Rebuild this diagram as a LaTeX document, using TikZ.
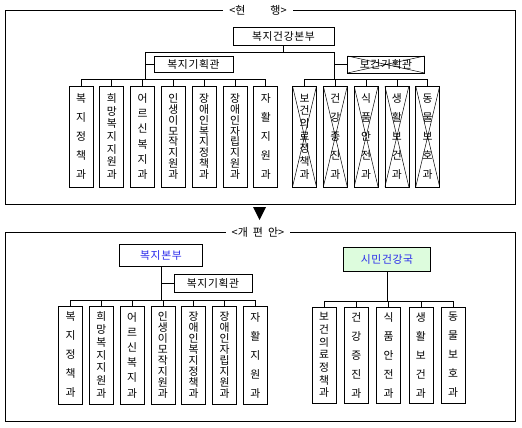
\documentclass[tikz,border=0pt]{standalone}
\usepackage{fontspec}
\setmainfont{Noto Sans CJK KR}
\usetikzlibrary{positioning}
\definecolor{orgblue}{RGB}{40,40,235}
\definecolor{orggreen}{RGB}{221,252,221}

\begin{document}
\begin{tikzpicture}[x=1pt, y=-1pt, line width=0.8pt,
      ttl/.style={fill=white, inner xsep=6pt, inner ysep=1pt,
                  font=\fontsize{11}{13}\selectfont},
      hbox/.style={draw, inner sep=0pt,
                   font=\fontsize{10.8}{13}\selectfont\addfontfeatures{LetterSpace=6}},
      dept/.style={draw, minimum width=24pt, minimum height=101pt,
                   inner sep=0pt, align=center,
                   font=\fontsize{10.8}{#1}\selectfont},
      gone/.style={path picture={\draw[line width=0.5pt]
                   (path picture bounding box.north west) -- (path picture bounding box.south east)
                   (path picture bounding box.north east) -- (path picture bounding box.south west);}}
    ]
    \useasboundingbox (0,0) rectangle (522,428);

    \draw (5,10) rectangle (515,204);
    \node[ttl] (oldttl) at (258,10) {<현\hspace{25pt}행>};

    \node[hbox, minimum width=101pt, minimum height=18pt] (hq) at (283.5,36) {복지건강본부};
    \node[hbox, minimum width=79pt, minimum height=16pt] (wplan) at (193.5,64) {복지기획관};
    \node[hbox, gone, minimum width=77pt, minimum height=17pt] (hplan) at (386,64.5) {보건기획관};

    \coordinate (tl) at (145,52);
    \coordinate (tr) at (334,52);
    \coordinate (lbus) at (145,79);
    \coordinate (rbus) at (334,79);

    \draw (hq) -- (hq.south |- tl);
    \draw (tl) -- (tr);
    \draw (tl) -- (lbus);
    \draw (tr) -- (rbus);
    \draw (tl |- wplan) -- (wplan);
    \draw (tr |- hplan) -- (hplan);

    \node[dept=19] (w1) at (81,136.5) {복\\지\\정\\책\\과};
    \node[dept=12.7, right=6pt of w1] (w2) {희\\망\\복\\지\\지\\원\\과};
    \node[dept=15.2, right=6pt of w2] (w3) {어\\르\\신\\복\\지\\과};
    \node[dept=10.9, right=6pt of w3] (w4) {인\\생\\이\\모\\작\\지\\원\\과};
    \node[dept=10.9, right=6pt of w4] (w5) {장\\애\\인\\복\\지\\정\\책\\과};
    \node[dept=10.9, right=6pt of w5] (w6) {장\\애\\인\\자\\립\\지\\원\\과};
    \node[dept=19, right=6pt of w6] (w7) {자\\활\\지\\원\\과};

    \node[dept=12.7, gone] (h1) at (304.5,136.5) {보\\건\\의\\료\\정\\책\\과};
    \node[dept=19, gone, right=6pt of h1] (h2) {건\\강\\증\\진\\과};
    \node[dept=19, gone, right=6pt of h2] (h3) {식\\품\\안\\전\\과};
    \node[dept=19, gone, right=6pt of h3] (h4) {생\\활\\보\\건\\과};
    \node[dept=19, gone, right=6pt of h4] (h5) {동\\물\\보\\호\\과};

    \draw (w1.north) |- (lbus) (w2.north) |- (lbus) (w3.north) |- (lbus)
          (w4.north) |- (lbus) (w5.north) |- (lbus) (w6.north) |- (lbus)
          (w7.north) |- (lbus);
    \draw (h1.north) |- (rbus) (h2.north) |- (rbus) (h3.north) |- (rbus)
          (h4.north) |- (rbus) (h5.north) |- (rbus);

    \fill (253,207) -- (266,207) -- (259.5,220) -- cycle;

    \draw (5,232) rectangle (515,421);
    \node[ttl] (newttl) at (258,232) {<개\hspace{5pt}편\hspace{5pt}안>};

    \node[hbox, text=orgblue, minimum width=83pt, minimum height=22pt] (nhq) at (161,255) {복지본부};
    \node[hbox, minimum width=78pt, minimum height=18pt] (nplan) at (213,283) {복지기획관};
    \node[hbox, fill=orggreen, text=orgblue, minimum width=87pt, minimum height=24pt] (cit) at (387,259) {시민건강국};

    \coordinate (nlbus) at (161,300);
    \coordinate (nrbus) at (387,301);

    \draw (nhq) -- (nlbus);
    \draw (nhq.south |- nplan) -- (nplan);
    \draw (cit) -- (nrbus);

    \node[dept=19, minimum height=98pt] (nw1) at (70.5,355) {복\\지\\정\\책\\과};
    \node[dept=12.7, minimum height=98pt, right=6pt of nw1] (nw2) {희\\망\\복\\지\\지\\원\\과};
    \node[dept=15.2, minimum height=98pt, right=6pt of nw2] (nw3) {어\\르\\신\\복\\지\\과};
    \node[dept=10.9, minimum height=98pt, right=6pt of nw3] (nw4) {인\\생\\이\\모\\작\\지\\원\\과};
    \node[dept=10.9, minimum height=98pt, right=6pt of nw4] (nw5) {장\\애\\인\\복\\지\\정\\책\\과};
    \node[dept=10.9, minimum height=98pt, right=6pt of nw5] (nw6) {장\\애\\인\\자\\립\\지\\원\\과};
    \node[dept=19, minimum height=98pt, right=6pt of nw6] (nw7) {자\\활\\지\\원\\과};

    \node[dept=12.7, minimum height=96pt] (c1) at (324,355) {보\\건\\의\\료\\정\\책\\과};
    \node[dept=19, minimum height=96pt, right=7.5pt of c1] (c2) {건\\강\\증\\진\\과};
    \node[dept=19, minimum height=96pt, right=7.5pt of c2] (c3) {식\\품\\안\\전\\과};
    \node[dept=19, minimum height=96pt, right=7.5pt of c3] (c4) {생\\활\\보\\건\\과};
    \node[dept=19, minimum height=96pt, right=7.5pt of c4] (c5) {동\\물\\보\\호\\과};

    \draw (nw1.north) |- (nlbus) (nw2.north) |- (nlbus) (nw3.north) |- (nlbus)
          (nw4.north) |- (nlbus) (nw5.north) |- (nlbus) (nw6.north) |- (nlbus)
          (nw7.north) |- (nlbus);
    \draw (c1.north) |- (nrbus) (c2.north) |- (nrbus) (c3.north) |- (nrbus)
          (c4.north) |- (nrbus) (c5.north) |- (nrbus);
  \end{tikzpicture}
\end{document}
